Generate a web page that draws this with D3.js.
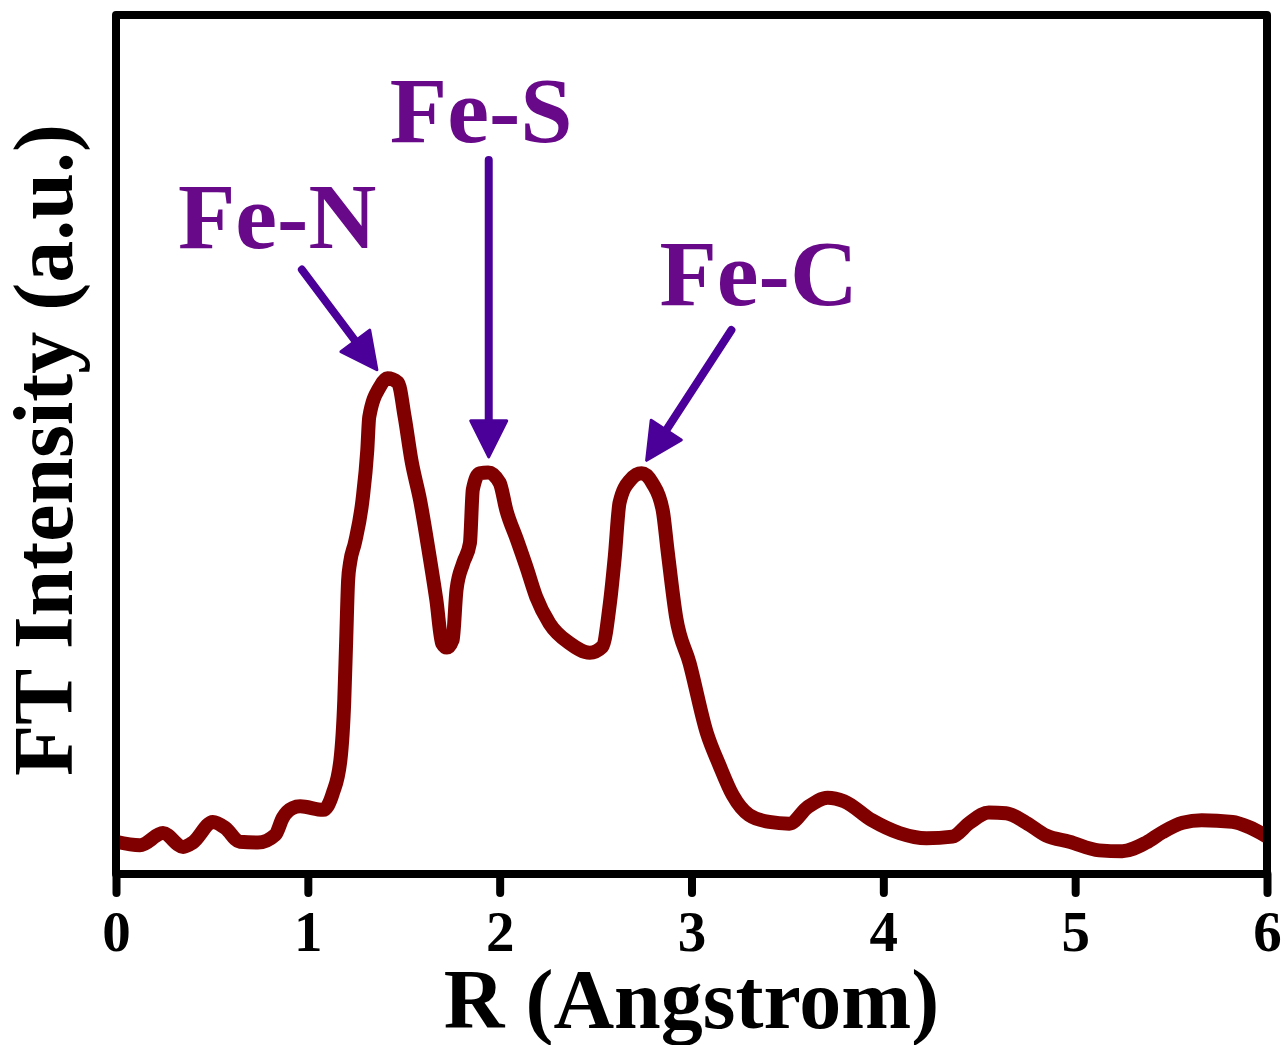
<!DOCTYPE html>
<html>
<head>
<meta charset="utf-8">
<script src="https://cdn.jsdelivr.net/npm/d3@7"></script>
<style>
  body { margin: 0; background: #fff; }
  text { font-family: "Liberation Serif", "Times New Roman", serif; font-weight: bold; }
</style>
</head>
<body>
<div id="wrapper"></div>
<script>
// R values (Angstrom)
const rValues = [0.0, 0.125, 0.245, 0.35, 0.40, 0.505, 0.57, 0.645, 0.74, 0.83, 0.87, 0.92, 0.96, 1.08, 1.13, 1.17, 1.19, 1.20, 1.21, 1.22, 1.245, 1.285, 1.31, 1.32, 1.375, 1.415, 1.47, 1.505, 1.54, 1.585, 1.635, 1.67, 1.70, 1.725, 1.755, 1.775, 1.81, 1.845, 1.86, 1.895, 1.94, 2.0, 2.035, 2.09, 2.14, 2.19, 2.26, 2.365, 2.47, 2.535, 2.575, 2.60, 2.625, 2.68, 2.74, 2.795, 2.85, 2.875, 2.92, 2.99, 3.08, 3.145, 3.215, 3.30, 3.405, 3.51, 3.605, 3.71, 3.795, 3.94, 4.085, 4.225, 4.36, 4.45, 4.55, 4.64, 4.745, 4.85, 4.97, 5.125, 5.245, 5.37, 5.455, 5.56, 5.66, 5.82, 5.905, 6.0];
// FT intensity (a.u.), same order
const ftValues = [0.042, 0.038, 0.052, 0.036, 0.041, 0.065, 0.058, 0.042, 0.041, 0.050, 0.070, 0.081, 0.083, 0.079, 0.098, 0.137, 0.206, 0.276, 0.345, 0.365, 0.388, 0.438, 0.496, 0.534, 0.569, 0.579, 0.574, 0.534, 0.484, 0.438, 0.372, 0.322, 0.272, 0.267, 0.276, 0.334, 0.365, 0.388, 0.450, 0.469, 0.470, 0.458, 0.426, 0.392, 0.360, 0.326, 0.295, 0.272, 0.261, 0.268, 0.319, 0.372, 0.435, 0.461, 0.469, 0.458, 0.426, 0.380, 0.302, 0.249, 0.168, 0.131, 0.096, 0.073, 0.065, 0.063, 0.082, 0.093, 0.089, 0.067, 0.052, 0.046, 0.048, 0.064, 0.076, 0.075, 0.064, 0.049, 0.042, 0.032, 0.031, 0.041, 0.053, 0.064, 0.067, 0.065, 0.059, 0.048];

const xTicks = [0, 1, 2, 3, 4, 5, 6];

// peak annotations: label, arrow tail -> tip, label anchor (data units)
const peakLabels = ["Fe-N", "Fe-S", "Fe-C"];
const arrowTail = [[0.969, 0.705], [1.943, 0.832], [3.208, 0.635]];
const arrowTip = [[1.36, 0.589], [1.943, 0.488], [2.766, 0.484]];
const labelAt = [[0.323, 0.730], [1.427, 0.853], [2.833, 0.664]];

const width = 1288, height = 1045;
const plotLeft = 116, plotRight = 1267, plotTop = 15, plotBottom = 874;

const svg = d3.select("#wrapper").append("svg")
  .attr("width", width)
  .attr("height", height);

const xScale = d3.scaleLinear().domain([0, 6]).range([plotLeft, plotRight]);
const yScale = d3.scaleLinear().domain([0, 1]).range([878, 15]);

const dataset = rValues.map((r, i) => ({ r: r, v: ftValues[i] }));

// curve
svg.append("path")
  .datum(dataset)
  .attr("fill", "none")
  .attr("stroke", "#800000")
  .attr("stroke-width", 14)
  .attr("stroke-linejoin", "round")
  .attr("d", d3.line()
    .x(d => xScale(d.r))
    .y(d => yScale(d.v))
    .curve(d3.curveMonotoneX));

// frame
svg.append("rect")
  .attr("x", plotLeft)
  .attr("y", plotTop)
  .attr("width", plotRight - plotLeft)
  .attr("height", plotBottom - plotTop)
  .attr("fill", "none")
  .attr("stroke", "#000")
  .attr("stroke-width", 8)
  .attr("stroke-linejoin", "round");

// x axis
const xAxis = svg.append("g")
  .attr("transform", `translate(0,${plotBottom})`)
  .call(d3.axisBottom(xScale).tickValues(xTicks).tickSize(19).tickFormat(d3.format("d")));
xAxis.select(".domain").remove();
xAxis.selectAll(".tick line")
  .attr("stroke", "#000")
  .attr("stroke-width", 8)
  .attr("stroke-linecap", "round");
xAxis.selectAll(".tick text")
  .attr("y", 77)
  .attr("dy", 0)
  .attr("fill", "#000")
  .style("font-family", "'Liberation Serif', serif")
  .style("font-weight", "bold")
  .style("font-size", "57px");

// axis titles
svg.append("text")
  .attr("x", (plotLeft + plotRight) / 2 + 0)
  .attr("y", 1028)
  .attr("text-anchor", "middle")
  .style("font-size", "84px")
  .text("R (Angstrom)");

svg.append("text")
  .attr("transform", "translate(72,450) rotate(-90)")
  .attr("text-anchor", "middle")
  .style("font-size", "84px")
  .text("FT Intensity (a.u.)");

// annotations
const arrowColor = "#4a0099";
const headLen = 36, headHalf = 18;
peakLabels.forEach((lab, i) => {
  const x1 = xScale(arrowTail[i][0]), y1 = yScale(arrowTail[i][1]);
  const x2 = xScale(arrowTip[i][0]), y2 = yScale(arrowTip[i][1]);
  const len = Math.hypot(x2 - x1, y2 - y1);
  const ux = (x2 - x1) / len, uy = (y2 - y1) / len;
  const bx = x2 - ux * headLen, by = y2 - uy * headLen;
  svg.append("line")
    .attr("x1", x1).attr("y1", y1)
    .attr("x2", bx + ux * 4).attr("y2", by + uy * 4)
    .attr("stroke", arrowColor)
    .attr("stroke-width", 8)
    .attr("stroke-linecap", "round");
  svg.append("path")
    .attr("d", `M${x2},${y2}L${bx - uy * headHalf},${by + ux * headHalf}L${bx + uy * headHalf},${by - ux * headHalf}Z`)
    .attr("fill", arrowColor)
    .attr("stroke", arrowColor)
    .attr("stroke-width", 3)
    .attr("stroke-linejoin", "round");
  svg.append("text")
    .attr("x", xScale(labelAt[i][0]))
    .attr("y", yScale(labelAt[i][1]))
    .attr("fill", "#68098a")
    .style("font-size", "94px")
    .text(lab);
});
</script>
</body>
</html>
